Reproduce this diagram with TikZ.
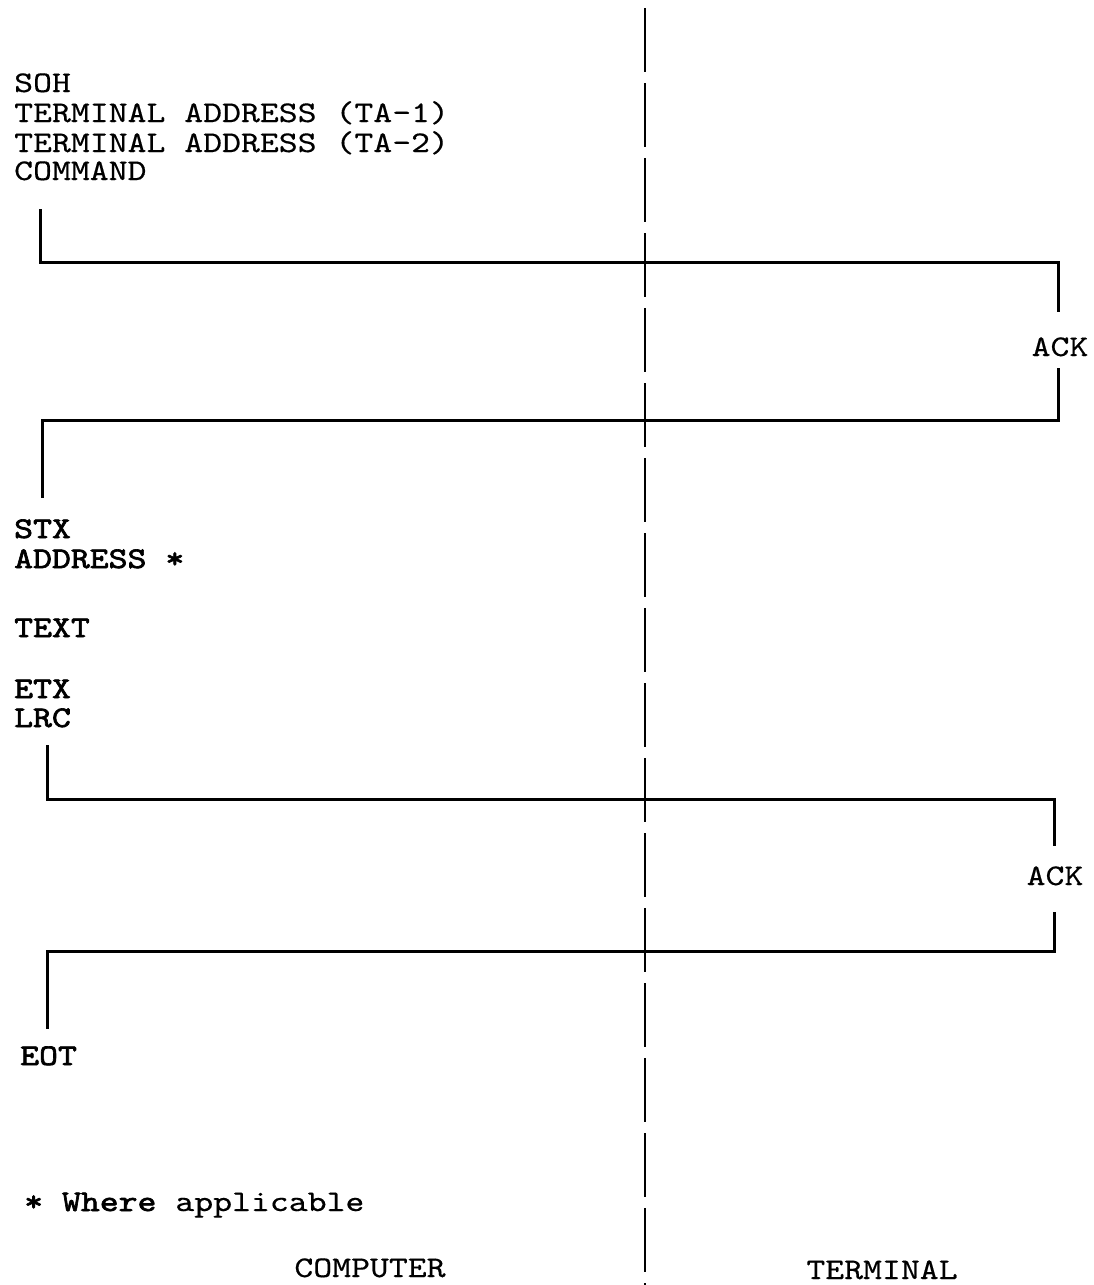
\documentclass[tikz,border=0pt]{standalone}
\usepackage{fontspec}
\newfontfamily\tw[FakeStretch=1.2,FakeBold=0.4]{lmmono10-regular.otf}
\newfontfamily\twb[FakeStretch=1.2,FakeBold=2.2]{lmmono10-regular.otf}
\begin{document}
\begin{tikzpicture}[x=1pt,y=-1pt,
  txt/.style={font=\tw\fontsize{30}{32}\selectfont, inner sep=0pt, anchor=base west},
  txtb/.style={txt, font=\twb\fontsize{30}{32}\selectfont},
  ctr/.style={txt, anchor=base},
  msg/.style={line width=3pt, line join=miter, line cap=butt},
  axisline/.style={line width=1.6pt, dash pattern=on 64pt off 11pt, dash phase=-8pt}]
\useasboundingbox (0,0) rectangle (1093,1285);
% central divider
\coordinate (axtop) at (645,0);
\coordinate (axbot) at (645,1285);
\draw[axisline] (axtop) -- (axbot);
% first block
\node[txt] (soh) at (14,92) {SOH};
\node[txt] (ta1) at (14,122) {TERMINAL ADDRESS (TA-1)};
\node[txt] (ta2) at (14,152) {TERMINAL ADDRESS (TA-2)};
\node[txt] (cmd) at (14,180) {COMMAND};
\node[txt, anchor=base] (ack1) at (1060,356) {ACK};
% bracket 1
\coordinate (a1) at (40,209);
\coordinate (a2) at (40,262);
\coordinate (a3) at (1058,262);
\coordinate (a4) at (1058,312);
\draw[msg] (a1) -- (a2) -- (a3) -- (a4);
\coordinate (b1) at (1058,368);
\coordinate (b2) at (1058,420);
\coordinate (b3) at (42,420);
\coordinate (b4) at (42,498);
\draw[msg] (b1) -- (b2) -- (b3) -- (b4);
% second block
\node[txtb] (stx) at (14,538) {STX};
\node[txtb] (addr) at (14,568) {ADDRESS *};
\node[txtb] (text) at (14,637) {TEXT};
\node[txtb] (etx) at (14,698) {ETX};
\node[txtb] (lrc) at (14,727) {LRC};
\node[txt, anchor=base] (ack2) at (1055,885) {ACK};
% bracket 2
\coordinate (c1) at (47,745);
\coordinate (c2) at (47,799);
\coordinate (c3) at (1054,799);
\coordinate (c4) at (1054,846);
\draw[msg] (c1) -- (c2) -- (c3) -- (c4);
\coordinate (d1) at (1054,912);
\coordinate (d2) at (1054,951);
\coordinate (d3) at (47,951);
\coordinate (d4) at (47,1029);
\draw[msg] (d1) -- (d2) -- (d3) -- (d4);
% end
\node[txtb] (eot) at (20,1065) {EOT};
\node[txt] (note) at (24,1211) {{\twb* Where} applicable};
\node[ctr] (comp) at (370,1277) {COMPUTER};
\node[ctr] (term) at (882,1279) {TERMINAL};
\end{tikzpicture}
\end{document}
